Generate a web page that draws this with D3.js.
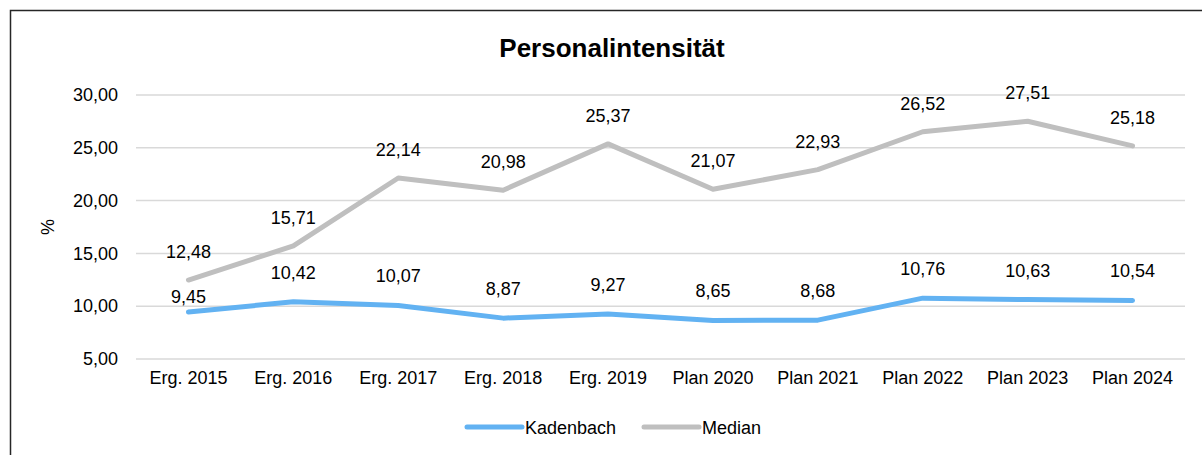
<!DOCTYPE html>
<html>
<head>
<meta charset="utf-8">
<script src="https://cdn.jsdelivr.net/npm/d3@7"></script>
<style>
body { margin: 0; background: #fff; }
text { font-family: "Liberation Sans", Arial, sans-serif; fill: #000; }
</style>
</head>
<body>
<svg id="chart"></svg>
<script>
var categories = ["Erg. 2015","Erg. 2016","Erg. 2017","Erg. 2018","Erg. 2019","Plan 2020","Plan 2021","Plan 2022","Plan 2023","Plan 2024"]
var kadenbach = [9.45,10.42,10.07,8.87,9.27,8.65,8.68,10.76,10.63,10.54]
var median = [12.48,15.71,22.14,20.98,25.37,21.07,22.93,26.52,27.51,25.18]
var yTicks = [5,10,15,20,25,30]
var seriesNames = ["Kadenbach","Median"]

var svgw = 1202
var svgh = 455
var margins = {left: 136, top: 95}
var graphDim = {width: 1049, height: 264}

var fmt = function(v){ return v.toFixed(2).replace(".", ",") }

var svg = d3.select("#chart")
    .attr("width", svgw)
    .attr("height", svgh)

// chart frame
svg.append("rect")
    .attr("x", 10.5).attr("y", 10.5)
    .attr("width", 1220).attr("height", 470)
    .attr("fill", "none")
    .attr("stroke", "#262626")
    .attr("stroke-width", 1.5)

var xscale = d3.scaleBand()
    .domain(categories)
    .range([margins.left, margins.left + graphDim.width])

var yscale = d3.scaleLinear()
    .domain([5, 30])
    .range([margins.top + graphDim.height, margins.top])

// gridlines
svg.append("g")
    .selectAll("line")
    .data(yTicks)
    .enter()
    .append("line")
    .attr("x1", margins.left)
    .attr("x2", margins.left + graphDim.width)
    .attr("y1", function(d){ return yscale(d) })
    .attr("y2", function(d){ return yscale(d) })
    .attr("stroke", "#d9d9d9")
    .attr("stroke-width", 1.5)

// y axis labels
var yAxis = d3.axisLeft(yscale).tickValues(yTicks).tickFormat(fmt).tickSize(0).tickPadding(18)
var ya = svg.append("g")
    .attr("transform", "translate(" + margins.left + ",0)")
    .call(yAxis)
ya.select(".domain").remove()
ya.selectAll("text").style("font-size", "18px").attr("font-family", null)

// x axis labels
var xAxis = d3.axisBottom(xscale).tickSize(0).tickPadding(12)
var xa = svg.append("g")
    .attr("transform", "translate(0," + (margins.top + graphDim.height) + ")")
    .call(xAxis)
xa.select(".domain").remove()
xa.selectAll("text").style("font-size", "18px").attr("font-family", null)

var cx = function(d, i){ return xscale(categories[i]) + xscale.bandwidth() / 2 }

var line = d3.line()
    .x(function(d, i){ return cx(d, i) })
    .y(function(d){ return yscale(d) })

var series = [
    {name: seriesNames[0], values: kadenbach, color: "#62b2f2"},
    {name: seriesNames[1], values: median, color: "#bfbfbf"}
]

series.forEach(function(s){
    svg.append("path")
        .datum(s.values)
        .attr("d", line)
        .attr("fill", "none")
        .attr("stroke", s.color)
        .attr("stroke-width", 5)
        .attr("stroke-linejoin", "round")
        .attr("stroke-linecap", "round")
})

// data labels (first Kadenbach label sits lower, as in the original)
var liftK = [9,23,23,23,23,23,23,23,23,23]
series.forEach(function(s, si){
    svg.append("g")
        .selectAll("text")
        .data(s.values)
        .enter()
        .append("text")
        .attr("x", function(d, i){ return cx(d, i) })
        .attr("y", function(d, i){ return yscale(d) - (si == 0 ? liftK[i] : 22) })
        .attr("text-anchor", "middle")
        .style("font-size", "18px")
        .text(fmt)
})

// title
svg.append("text")
    .attr("x", 612)
    .attr("y", 57)
    .attr("text-anchor", "middle")
    .style("font-size", "26px")
    .style("font-weight", "bold")
    .text("Personalintensität")

// y label
svg.append("text")
    .attr("transform", "translate(54," + (margins.top + graphDim.height / 2) + ") rotate(-90)")
    .attr("text-anchor", "middle")
    .style("font-size", "18px")
    .text("%")

// legend
var legendX = [467, 644]
var entries = svg.append("g")
    .selectAll("g")
    .data(series)
    .enter()
    .append("g")
    .attr("transform", function(d, i){ return "translate(" + legendX[i] + ",427)" })

entries.append("line")
    .attr("x1", 0).attr("x2", 55)
    .attr("y1", 0).attr("y2", 0)
    .attr("stroke", function(d){ return d.color })
    .attr("stroke-width", 5)
    .attr("stroke-linecap", "round")

entries.append("text")
    .attr("x", 58)
    .attr("y", 6.5)
    .style("font-size", "18px")
    .text(function(d){ return d.name })
</script>
</body>
</html>
